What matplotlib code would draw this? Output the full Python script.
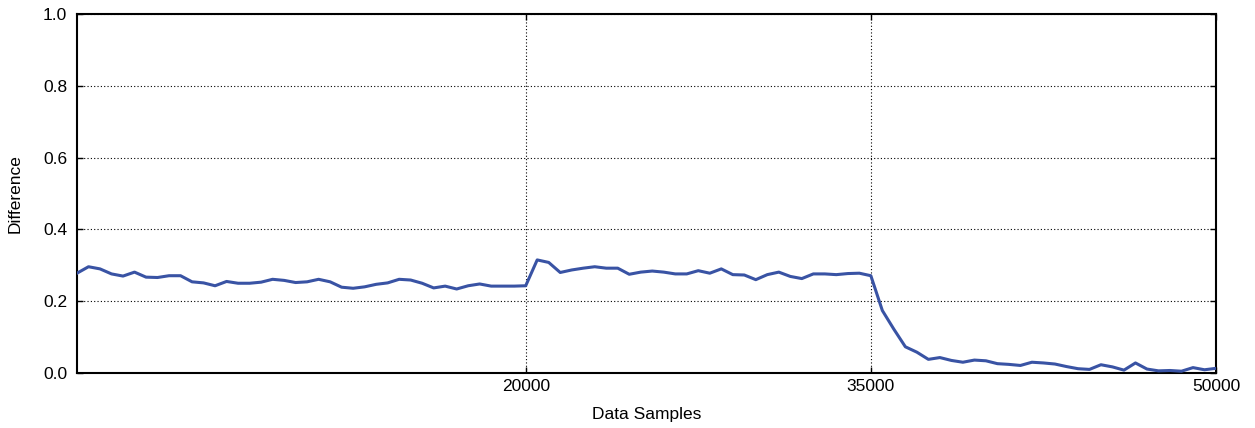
import matplotlib
matplotlib.use("Agg")
import matplotlib.pyplot as plt
import numpy as np

x_samples = list(range(500, 50001, 500))
difference = [
    0.278, 0.296, 0.290, 0.276, 0.270, 0.281, 0.267, 0.266, 0.271, 0.271,
    0.254, 0.251, 0.243, 0.255,
    0.250, 0.250, 0.253, 0.261, 0.258, 0.252, 0.254, 0.261, 0.254, 0.239,
    0.236, 0.240, 0.247,
    0.251, 0.261, 0.259, 0.250, 0.237, 0.242, 0.234, 0.243, 0.248, 0.242,
    0.242, 0.242, 0.243,
    0.315, 0.308, 0.280, 0.287, 0.292, 0.296, 0.292, 0.292, 0.275, 0.281,
    0.284, 0.281, 0.276,
    0.276, 0.285, 0.278, 0.290, 0.274, 0.273, 0.260, 0.274, 0.281, 0.269,
    0.263, 0.276, 0.276,
    0.274, 0.277, 0.278, 0.271, 0.174, 0.122, 0.073, 0.058, 0.038, 0.043,
    0.035, 0.030, 0.036,
    0.034, 0.026, 0.024, 0.021, 0.030, 0.028, 0.025, 0.018, 0.012, 0.010,
    0.023, 0.017, 0.008, 0.028, 0.011, 0.006, 0.007, 0.005, 0.015, 0.009,
    0.013,
]
x_ticks = [20000, 35000, 50000]
y_ticks = [0.0, 0.2, 0.4, 0.6, 0.8, 1.0]

plt.rcParams['font.family'] = ['Liberation Sans', 'DejaVu Sans']

fig = plt.figure(figsize=(12.55, 4.28), dpi=100)
ax = fig.add_axes([77/1255, 1 - 373/428, (1216 - 77)/1255, (373 - 14)/428])

ax.plot(x_samples, difference, color='#3953a4', linewidth=2.2, zorder=3)

ax.set_xlim(500, 50000)
ax.set_ylim(0, 1.0)
ax.set_xticks(x_ticks)
ax.set_xticklabels([str(t) for t in x_ticks])
ax.set_yticks(y_ticks)
ax.set_yticklabels([f"{t:.1f}" for t in y_ticks])

ax.grid(True, linestyle=(0, (1, 2)), color='black', linewidth=0.8)
ax.tick_params(direction='in', length=4, width=1, labelsize=12.5,
               top=True, right=True, colors='black')
ax.tick_params(axis='x', pad=4)
ax.tick_params(axis='y', pad=7)
for s in ax.spines.values():
    s.set_linewidth(1.5)
    s.set_color('black')

ax.set_xlabel('Data Samples', fontsize=12.5, labelpad=10)
ax.set_ylabel('Difference', fontsize=12.5, labelpad=15)

fig.savefig('out.png', dpi=100)
